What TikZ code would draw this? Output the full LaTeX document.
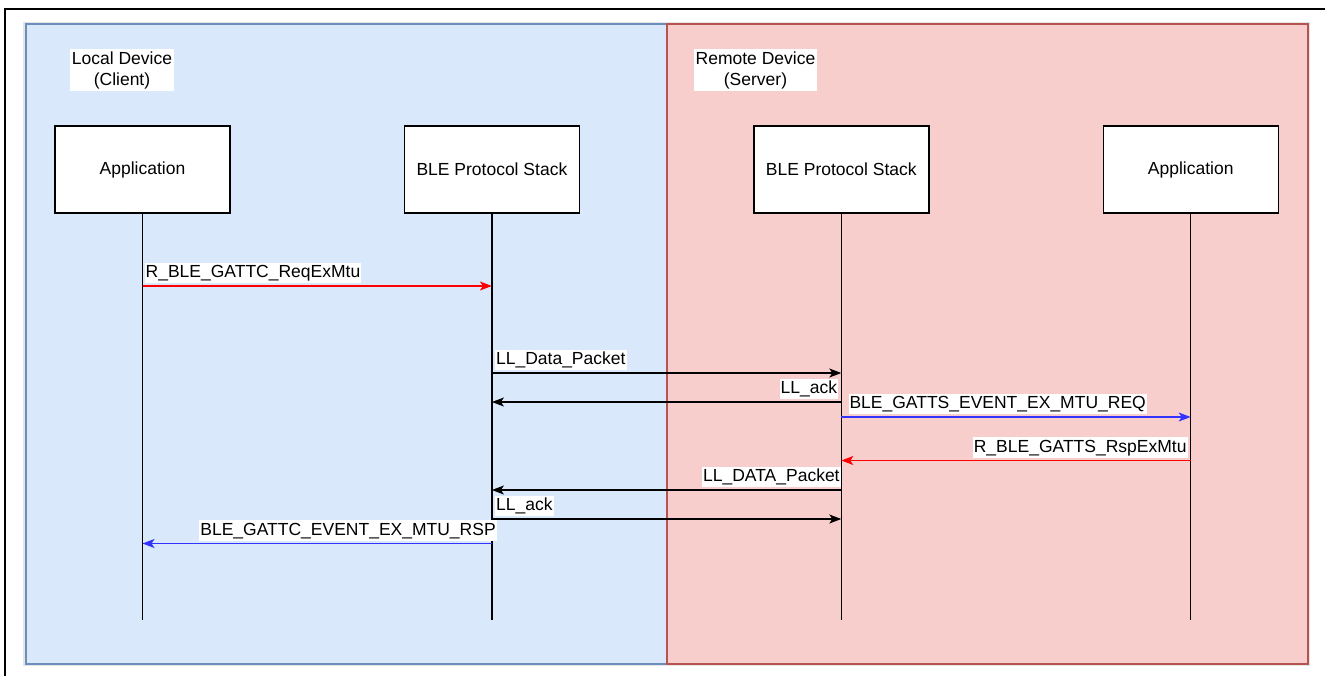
\documentclass[tikz,border=0pt]{standalone}
\usepackage{fontspec}
\setmainfont{Liberation Sans}
\usetikzlibrary{arrows.meta,positioning}
\definecolor{clientfill}{HTML}{DAE8FC}
\definecolor{clientline}{HTML}{6C8EBF}
\definecolor{serverfill}{HTML}{F8CECC}
\definecolor{serverline}{HTML}{B85450}
\definecolor{msgred}{RGB}{255,0,0}
\definecolor{msgblue}{RGB}{51,51,255}

\begin{document}
\begin{tikzpicture}[x=1pt, y=-1pt, line width=1.4pt,
  font=\fontsize{17.5}{21}\selectfont,
  actor/.style={draw, fill=white, minimum width=175pt, minimum height=87pt},
  msg/.style={-{Stealth[length=12pt, width=9pt, inset=3pt]}},
  lbl/.style={fill=white, text=black, inner xsep=1pt, inner ysep=2pt,
    text height=12.6pt, text depth=3.8pt, yshift=2pt},
  side/.style={fill=white, align=center, inner xsep=2pt, inner ysep=2pt}]
\useasboundingbox (0,0) rectangle (1325,675);
\fill[black!10] (23,22) rectangle (1309.5,666);
\draw[fill=clientfill, draw=clientline] (26,24) rectangle (667,664);
\draw[fill=serverfill, draw=serverline] (667,24) rectangle (1308,664);
\draw[line width=2pt] (5,9) rectangle (1340,690);
\node[side] (client) at (122,70) {Local Device\\(Client)};
\node[side] (server) at (755.5,70) {Remote Device\\(Server)};
\node[actor] (app1) at (142.5,169.5) {Application};
\node[actor, right=173pt of app1] (stack1) {BLE Protocol Stack};
\node[actor, right=173pt of stack1] (stack2) {BLE Protocol Stack};
\node[actor, right=173pt of stack2] (app2) {Application};
\coordinate (bottom) at (0,620);
\foreach \n in {app1,stack1,stack2,app2}
  \draw (\n.south) -- (\n |- bottom);
\coordinate (m1) at (0,286);
\coordinate (m2) at (0,373);
\coordinate (m3) at (0,402);
\coordinate (m4) at (0,417);
\coordinate (m5) at (0,460.5);
\coordinate (m6) at (0,490);
\coordinate (m7) at (0,519);
\coordinate (m8) at (0,543.5);
\draw[msg, msgred] (app1 |- m1) -- (stack1 |- m1)
  node[lbl, pos=0, anchor=south west, xshift=1.5pt] {R\_BLE\_GATTC\_ReqExMtu};
\draw[msg] (stack1 |- m2) -- (stack2 |- m2)
  node[lbl, pos=0, anchor=south west, xshift=2.5pt] {LL\_Data\_Packet};
\draw[msg] (stack2 |- m3) -- (stack1 |- m3)
  node[lbl, pos=0, anchor=south east, xshift=-2.5pt] {LL\_ack};
\draw[msg, msgblue] (stack2 |- m4) -- (app2 |- m4)
  node[lbl, pos=0, anchor=south west, xshift=6.5pt] {BLE\_GATTS\_EVENT\_EX\_MTU\_REQ\ };
\draw[msg, msgred] (app2 |- m5) -- (stack2 |- m5)
  node[lbl, pos=0, anchor=south east, xshift=-2.5pt] {R\_BLE\_GATTS\_RspExMtu};
\draw[msg] (stack2 |- m6) -- (stack1 |- m6)
  node[lbl, pos=0, anchor=south east, xshift=0pt] {LL\_DATA\_Packet};
\draw[msg] (stack1 |- m7) -- (stack2 |- m7)
  node[lbl, pos=0, anchor=south west, xshift=2.5pt] {LL\_ack};
\draw[msg, msgblue] (stack1 |- m8) -- (app1 |- m8)
  node[lbl, pos=0, anchor=south east, xshift=5.5pt] {BLE\_GATTC\_EVENT\_EX\_MTU\_RSP};
\end{tikzpicture}
\end{document}
